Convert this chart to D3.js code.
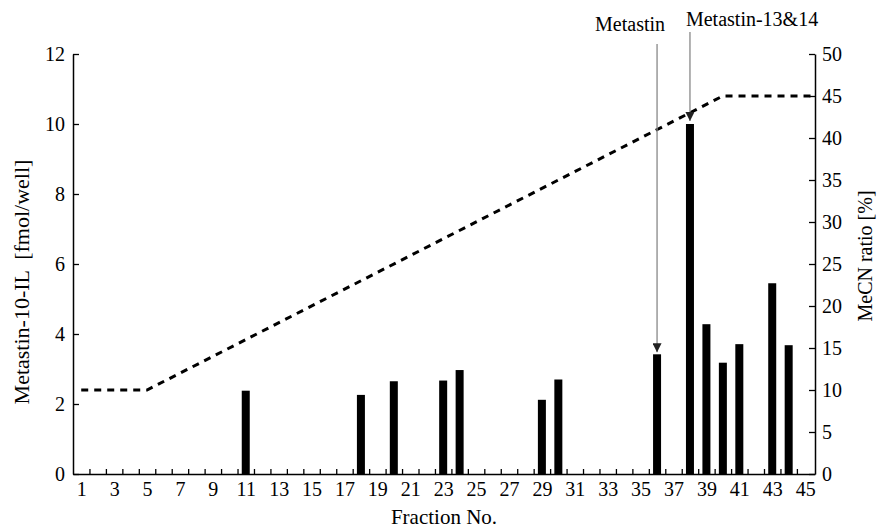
<!DOCTYPE html>
<html>
<head>
<meta charset="utf-8">
<script src="https://cdn.jsdelivr.net/npm/d3@7"></script>
<style>
  body { margin: 0; background: #fff; }
  svg { display: block; }
  svg text { font-family: "Liberation Serif", "Times New Roman", Times, "Nimbus Roman", "DejaVu Serif", serif; }
</style>
</head>
<body>
<div id="chart"></div>
<script>
// Bars: fraction number and Metastin-10-IL immunoreactivity (fmol/well)
const fractions = [11, 18, 20, 23, 24, 29, 30, 36, 38, 39, 40, 41, 43, 44];
const amounts = [2.38, 2.26, 2.65, 2.67, 2.97, 2.12, 2.70, 3.42, 10.0, 4.28, 3.18, 3.71, 5.45, 3.68];

// MeCN gradient (dashed line), right axis
const gradFraction = [1, 5, 40, 45.6];
const gradMeCN = [10, 10, 45, 45];

// Tick labels
const xLabels = [1, 3, 5, 7, 9, 11, 13, 15, 17, 19, 21, 23, 25, 27, 29, 31, 33, 35, 37, 39, 41, 43, 45];
const xTicks = [1.5, 2.5, 3.5, 4.5, 5.5, 6.5, 7.5, 8.5, 9.5, 10.5, 11.5, 12.5, 13.5, 14.5, 15.5, 16.5,
  17.5, 18.5, 19.5, 20.5, 21.5, 22.5, 23.5, 24.5, 25.5, 26.5, 27.5, 28.5, 29.5, 30.5, 31.5, 32.5,
  33.5, 34.5, 35.5, 36.5, 37.5, 38.5, 39.5, 40.5, 41.5, 42.5, 43.5, 44.5];
const leftTicks = [0, 2, 4, 6, 8, 10, 12];
const rightTicks = [0, 5, 10, 15, 20, 25, 30, 35, 40, 45, 50];

// Peak annotations
const peaks = [
  { label: "Metastin", fraction: 36, value: 3.42 },
  { label: "Metastin-13&14", fraction: 38, value: 10.0 }
];

const width = 878, height = 529;
const margin = { top: 54, right: 63, bottom: 55, left: 73 };

const svg = d3.select("#chart").append("svg")
    .attr("width", width)
    .attr("height", height);

const x = d3.scaleLinear().domain([0.5, 45.6]).range([margin.left, width - margin.right]);
const y = d3.scaleLinear().domain([0, 12]).range([height - margin.bottom, margin.top]);
const yR = d3.scaleLinear().domain([0, 50]).range([height - margin.bottom, margin.top]);

const defs = svg.append("defs");
defs.append("marker")
    .attr("id", "arrow")
    .attr("viewBox", "0 0 10 10")
    .attr("refX", 10)
    .attr("refY", 5)
    .attr("markerWidth", 9)
    .attr("markerHeight", 9)
    .attr("markerUnits", "userSpaceOnUse")
    .attr("orient", "auto")
    .append("path")
    .attr("d", "M0,0L10,5L0,10z")
    .attr("fill", "#222");

// Bars
svg.append("g")
    .selectAll("rect")
    .data(fractions)
    .join("rect")
    .attr("x", (d) => x(d) - 4)
    .attr("width", 8)
    .attr("y", (d, i) => y(amounts[i]))
    .attr("height", (d, i) => y(0) - y(amounts[i]))
    .attr("fill", "#000");

// Dashed MeCN line
const line = d3.line()
    .x((d, i) => x(d))
    .y((d, i) => yR(gradMeCN[i]));

svg.append("path")
    .datum(gradFraction)
    .attr("d", line)
    .attr("fill", "none")
    .attr("stroke", "#000")
    .attr("stroke-width", 3)
    .attr("stroke-dasharray", "7,6");

// Axes
function styleAxis(g) {
  g.attr("font-family", null);
  g.selectAll(".domain").attr("stroke", "#000").attr("stroke-width", 1.5);
  g.selectAll(".tick line").attr("stroke", "#000").attr("stroke-width", 1.3);
  g.selectAll("text").attr("font-size", 20).attr("fill", "#000");
}

svg.append("g")
    .attr("transform", `translate(${margin.left},0)`)
    .call(d3.axisLeft(y).tickValues(leftTicks).tickSizeInner(-6).tickSizeOuter(0).tickPadding(8))
    .call(styleAxis);

svg.append("g")
    .attr("transform", `translate(${width - margin.right},0)`)
    .call(d3.axisRight(yR).tickValues(rightTicks).tickSizeInner(-6).tickSizeOuter(0).tickPadding(7))
    .call(styleAxis);

svg.append("g")
    .attr("transform", `translate(0,${height - margin.bottom})`)
    .call(d3.axisBottom(x).tickValues(xTicks).tickSizeInner(-5).tickSizeOuter(0).tickFormat(""))
    .call(styleAxis);

svg.append("g")
    .attr("transform", `translate(0,${height - margin.bottom})`)
    .call(d3.axisBottom(x).tickValues(xLabels).tickSize(0).tickPadding(8))
    .call(styleAxis)
    .call((g) => g.select(".domain").remove());

// Axis titles
svg.append("text")
    .attr("transform", `translate(29,${(margin.top + height - margin.bottom) / 2 + 18}) rotate(-90)`)
    .attr("text-anchor", "middle")
    .attr("font-size", 22)
    .attr("xml:space", "preserve")
    .text("Metastin-10-IL  [fmol/well]");

svg.append("text")
    .attr("transform", `translate(872,${(margin.top + height - margin.bottom) / 2 - 8}) rotate(-90)`)
    .attr("text-anchor", "middle")
    .attr("font-size", 20)
    .text("MeCN ratio [%]");

svg.append("text")
    .attr("x", (margin.left + width - margin.right) / 2)
    .attr("y", 524)
    .attr("text-anchor", "middle")
    .attr("font-size", 21)
    .text("Fraction No.");

// Peak labels and arrows
const ann = svg.append("g");
ann.append("text")
    .attr("x", x(peaks[0].fraction) + 8)
    .attr("y", 31)
    .attr("text-anchor", "end")
    .attr("font-size", 20)
    .text(peaks[0].label);
ann.append("line")
    .attr("x1", x(peaks[0].fraction)).attr("x2", x(peaks[0].fraction))
    .attr("y1", 44).attr("y2", y(peaks[0].value) - 2)
    .attr("stroke", "#888").attr("stroke-width", 1.3)
    .attr("marker-end", "url(#arrow)");

ann.append("text")
    .attr("x", x(peaks[1].fraction) - 4)
    .attr("y", 26)
    .attr("text-anchor", "start")
    .attr("font-size", 20)
    .text(peaks[1].label);
ann.append("line")
    .attr("x1", x(peaks[1].fraction)).attr("x2", x(peaks[1].fraction))
    .attr("y1", 32).attr("y2", y(peaks[1].value) - 3)
    .attr("stroke", "#888").attr("stroke-width", 1.3)
    .attr("marker-end", "url(#arrow)");
</script>
</body>
</html>
